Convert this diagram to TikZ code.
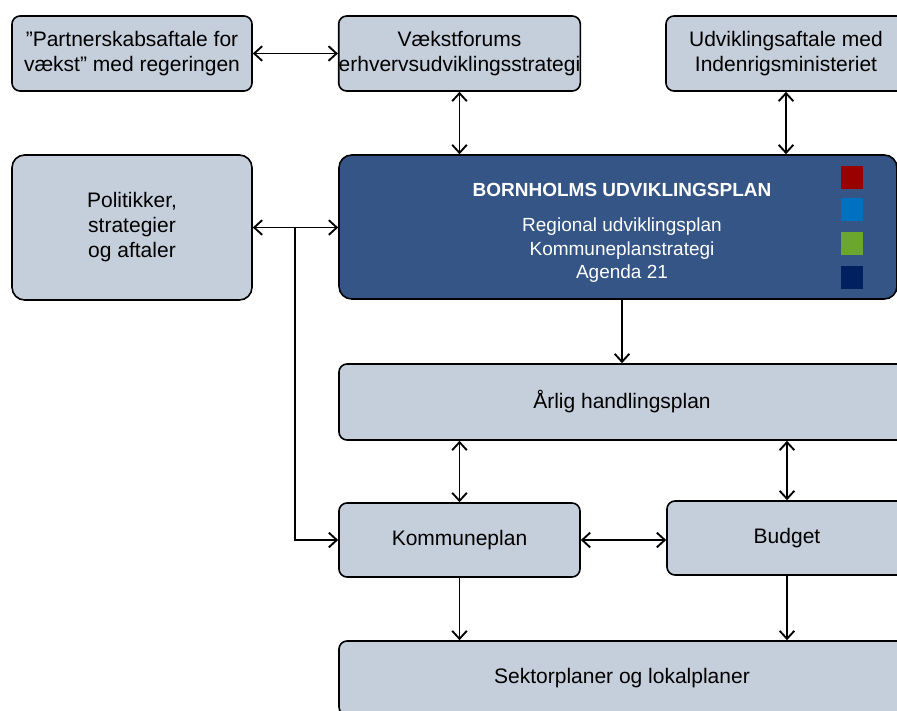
\documentclass[tikz,border=0pt]{standalone}
\usepackage{fontspec}
\setmainfont{Liberation Sans}
\usetikzlibrary{arrows.meta}
\definecolor{boxfill}{RGB}{197,206,219}
\definecolor{bupfill}{RGB}{52,85,134}
\definecolor{sqred}{RGB}{153,0,0}
\definecolor{sqblue}{RGB}{0,112,192}
\definecolor{sqgreen}{RGB}{107,167,46}
\definecolor{sqnavy}{RGB}{0,32,96}
\tikzset{
  x=0.75pt, y=-0.75pt,
  box/.style={draw=black, line width=1.2pt, fill=boxfill, rounded corners=6pt,
    inner sep=0pt, align=center,
    font=\fontsize{15.75}{18.75}\selectfont},
  bigbox/.style={box, rounded corners=9.5pt},
  conn/.style={line width=1.4pt, draw=black},
  arr/.style={conn, -{Straight Barb[length=6pt,width=11pt]}},
  darr/.style={conn, {Straight Barb[length=6pt,width=11pt]}-{Straight Barb[length=6pt,width=11pt]}},
  sq/.style={inner sep=0pt, minimum width=16.5pt, minimum height=17.25pt}
}
\begin{document}
\begin{tikzpicture}
\useasboundingbox (0,0) rectangle (897,711);
\clip (0,0) rectangle (897,711);
% top row
\node[box, minimum width=180pt, minimum height=56.25pt] (B1) at (132,53.5)
  {”Partnerskabsaftale for\\ vækst” med regeringen};
\node[box, minimum width=180.75pt, minimum height=56.25pt] (B2) at (459.5,53.5)
  {Vækstforums\\ erhvervsudviklingsstrategi};
\node[box, minimum width=180pt, minimum height=56.25pt] (B3) at (786,53.5)
  {Udviklingsaftale med\\ Indenrigsministeriet};
% middle row
\node[bigbox, minimum width=180pt, minimum height=108.75pt] (Pol) at (132,227.5)
  {Politikker,\\ strategier\\ og aftaler};
\node[bigbox, fill=bupfill, minimum width=418.5pt, minimum height=108pt] (BUP) at (618,227) {};
\node[text=white, align=center, inner sep=0pt, font=\fontsize{14.25}{17.6}\selectfont] (BUPtext) at (622,233)
  {\textbf{BORNHOLMS UDVIKLINGSPLAN}\\[9pt] Regional udviklingsplan\\ Kommuneplanstrategi\\ Agenda 21};
\node[sq, fill=sqred] (S1) at (852,177.5) {};
\node[sq, fill=sqblue] (S2) at (852,209.5) {};
\node[sq, fill=sqgreen] (S3) at (852,243.5) {};
\node[sq, fill=sqnavy] (S4) at (852,277.5) {};
% lower rows
\node[box, minimum width=424.5pt, minimum height=57pt] (Arlig) at (622,402)
  {Årlig handlingsplan};
\node[box, minimum width=180.75pt, minimum height=55.5pt] (Komm) at (459.5,540)
  {Kommuneplan};
\node[box, minimum width=180pt, minimum height=55.5pt] (Budget) at (787,538)
  {Budget};
\node[box, minimum width=424.5pt, minimum height=55.5pt] (Sektor) at (622,678)
  {Sektorplaner og lokalplaner};
% connectors
\draw[darr] (B1.east) -- (B1.east -| B2.west);
\draw[darr] (B2.south) -- (B2.south |- BUP.north);
\draw[darr] (B3.south) -- (B3.south |- BUP.north);
\draw[darr] (Pol.east) -- (Pol.east -| BUP.west);
\coordinate (J) at (295,227.5);
\draw[arr] (J) |- (Komm.west);
\draw[arr] (BUP.south -| Arlig) -- (Arlig.north);
\draw[darr] (Arlig.south -| Komm) -- (Komm.north);
\draw[darr] (Arlig.south -| Budget) -- (Budget.north);
\draw[darr] (Komm.east) -- (Komm.east -| Budget.west);
\draw[arr] (Komm.south) -- (Komm.south |- Sektor.north);
\draw[arr] (Budget.south) -- (Budget.south |- Sektor.north);
\end{tikzpicture}
\end{document}
